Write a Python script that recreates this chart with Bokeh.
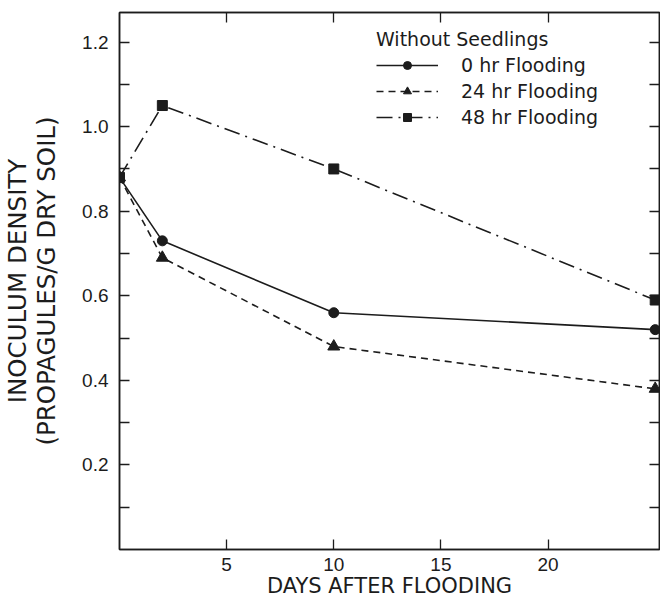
from bokeh.plotting import figure
from bokeh.models import (LinearAxis, FixedTicker, Legend, LegendItem,
                          PrintfTickFormatter)
from bokeh.embed import file_html
from bokeh.resources import INLINE

# ---- data ----
days = [0, 2, 10, 25]
hr0 = [0.88, 0.73, 0.56, 0.52]
hr24 = [0.88, 0.69, 0.48, 0.38]
hr48 = [0.88, 1.05, 0.90, 0.59]
series_labels = ["0 hr Flooding", "24 hr Flooding", "48 hr Flooding"]
legend_title = "Without Seedlings"
x_ticks = [5, 10, 15, 20]
y_ticks = [0.2, 0.4, 0.6, 0.8, 1.0, 1.2]
y_minor = [0.1, 0.3, 0.5, 0.7, 0.9, 1.1]

INK = "#1c1c1c"
LABEL_FONT = "DejaVu Sans"
TICK_FONT = "Liberation Sans"

p = figure(width=660, height=600, x_range=(0, 25.2), y_range=(0, 1.27),
           output_backend="svg", toolbar_location=None,
           min_border_left=111, min_border_right=1, min_border_top=12, min_border_bottom=40,
           x_axis_label="DAYS AFTER FLOODING",
           y_axis_label="INOCULUM DENSITY\n(PROPAGULES/G DRY SOIL)")
p.grid.visible = False
p.outline_line_color = INK
p.outline_line_width = 1.5
p.background_fill_color = "white"
p.border_fill_color = "white"


def style_axis(ax):
    ax.axis_line_color = INK
    ax.axis_line_width = 1.5
    ax.major_tick_line_color = INK
    ax.minor_tick_line_color = INK
    ax.major_tick_line_width = 1.3
    ax.minor_tick_line_width = 1.3
    ax.major_tick_in = 10
    ax.major_tick_out = 0
    ax.minor_tick_in = 10
    ax.minor_tick_out = 0
    ax.major_label_text_font = TICK_FONT
    ax.major_label_text_font_size = "19px"
    ax.major_label_text_color = INK
    ax.axis_label_text_font = LABEL_FONT
    ax.axis_label_text_font_style = "normal"
    ax.axis_label_text_color = INK


p.xaxis.ticker = FixedTicker(ticks=x_ticks, minor_ticks=[])
p.yaxis.ticker = FixedTicker(ticks=y_ticks, minor_ticks=y_minor)
p.yaxis.formatter = PrintfTickFormatter(format="%.1f")
for ax in p.xaxis + p.yaxis:
    style_axis(ax)
p.xaxis.major_label_standoff = 8
p.xaxis.axis_label_standoff = 0
p.xaxis.axis_label_text_font_size = "21px"
p.yaxis.major_label_standoff = 11
p.yaxis.axis_label_standoff = 18
p.yaxis.axis_label_text_font_size = "24.5px"
p.yaxis.axis_label_text_line_height = 1.0

# top and right frame axes: tick marks only (all ticks as unlabeled minor ticks)
top = LinearAxis(ticker=FixedTicker(ticks=[], minor_ticks=x_ticks))
right = LinearAxis(ticker=FixedTicker(ticks=[], minor_ticks=sorted(y_ticks + y_minor)))
for ax in (top, right):
    style_axis(ax)
    ax.major_label_standoff = 0
    ax.axis_label_standoff = 0
p.add_layout(top, "above")
p.add_layout(right, "right")

l0 = p.line(days, hr0, line_color=INK, line_width=1.6)
s0 = p.scatter(days, hr0, marker="circle", size=10, fill_color=INK, line_color=INK)
l24 = p.line(days, hr24, line_color=INK, line_width=1.6, line_dash="7 5")
s24 = p.scatter(days, hr24, marker="triangle", size=12, fill_color=INK, line_color=INK)
l48 = p.line(days, hr48, line_color=INK, line_width=1.6, line_dash="16 6 2 6")
s48 = p.scatter(days, hr48, marker="square", size=10, fill_color=INK, line_color=INK)

legend = Legend(
    items=[LegendItem(label=series_labels[0], renderers=[l0, s0]),
           LegendItem(label=series_labels[1], renderers=[l24, s24]),
           LegendItem(label=series_labels[2], renderers=[l48, s48])],
    title=legend_title,
    location=(257, 421),
    padding=5, margin=0, spacing=4,
    glyph_width=62, glyph_height=20, label_height=20, label_standoff=23,
    title_standoff=4,
    border_line_color=None, background_fill_alpha=0,
    label_text_font=LABEL_FONT, label_text_font_size="19px", label_text_color=INK,
    title_text_font=LABEL_FONT, title_text_font_size="19px", title_text_font_style="normal",
    title_text_color=INK,
)
p.add_layout(legend)

open("out.html", "w").write(file_html(p, INLINE))
